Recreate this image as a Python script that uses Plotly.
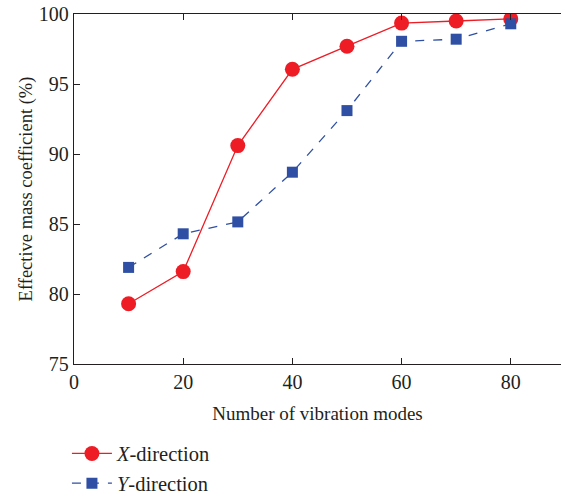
import plotly.graph_objects as go

modes = [10, 20, 30, 40, 50, 60, 70, 80]
x_dir = [79.3, 81.6, 90.6, 96.05, 97.7, 99.35, 99.5, 99.65]
y_dir = [81.9, 84.3, 85.15, 88.7, 93.1, 98.05, 98.2, 99.3]

font_family = "Liberation Serif"

fig = go.Figure()
fig.add_trace(go.Scatter(
    x=modes, y=x_dir, mode="lines+markers", name="<i>X</i>-direction",
    legendgroup="a",
    line=dict(color="#ee1c25", width=1.3),
    marker=dict(symbol="circle", size=15, color="#ee1c25"),
))
fig.add_trace(go.Scatter(
    x=modes, y=y_dir, mode="lines+markers", name="<i>Y</i>-direction",
    legendgroup="b",
    line=dict(color="#2e4fa3", width=1.3, dash="dash"),
    marker=dict(symbol="square", size=11, color="#2e4fa3"),
))
# invisible trace to drive top axis
fig.add_trace(go.Scatter(x=[0], y=[75], xaxis="x2", showlegend=False,
                         mode="markers", marker=dict(opacity=0), hoverinfo="skip"))

fig.update_layout(
    width=561, height=497,
    margin=dict(l=74, r=0, t=14, b=133, autoexpand=False),
    paper_bgcolor="white", plot_bgcolor="white",
    font=dict(family=font_family, size=17, color="#231f20"),
    xaxis=dict(
        range=[0, 89.2], tickvals=[0, 20, 40, 60, 80],
        showline=True, linecolor="#231f20", linewidth=1.3,
        ticks="inside", ticklen=6, tickcolor="#231f20",
        tickfont=dict(size=20),
        showgrid=False, zeroline=False,
        title=dict(text="Number of vibration modes", standoff=14, font=dict(size=19)),
    ),
    xaxis2=dict(
        range=[0, 89.2], tickvals=[0, 20, 40, 60, 80], overlaying="x", side="top",
        showline=True, linecolor="#231f20", linewidth=1.3,
        ticks="inside", ticklen=6, tickcolor="#231f20",
        showticklabels=False, showgrid=False, zeroline=False,
    ),
    yaxis=dict(
        range=[75, 100], tickvals=[75, 80, 85, 90, 95, 100],
        showline=True, linecolor="#231f20", linewidth=1.3,
        ticks="inside", ticklen=6, tickcolor="#231f20",
        tickfont=dict(size=20), ticklabeloverflow="allow",
        showgrid=False, zeroline=False,
        title=dict(text="Effective mass coefficient (%)", standoff=1, font=dict(size=18.5)),
    ),
    legend=dict(
        x=-0.0145, y=-0.199,
        xanchor="left", yanchor="top", orientation="v",
        font=dict(size=20.5), tracegroupgap=0, itemwidth=40,
        itemsizing="trace",
    ),
)

fig.write_html("out.html", config={"displayModeBar": False},
               post_script="document.body.style.margin='0';")
